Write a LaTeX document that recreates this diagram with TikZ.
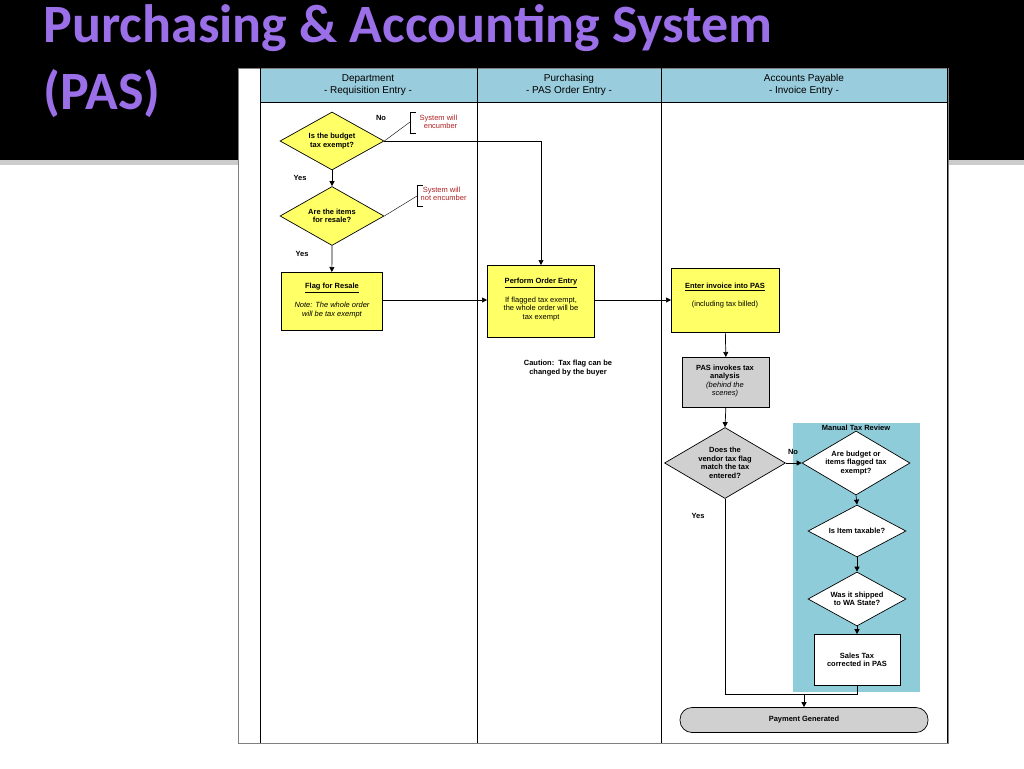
\documentclass[tikz,border=0pt]{standalone}
\usepackage{fontspec}
\setmainfont{Liberation Sans}
\newfontfamily\titlefont{Carlito}
\usetikzlibrary{shapes.geometric,arrows.meta}
\definecolor{ylw}{HTML}{FFFF66}
\definecolor{hdr}{HTML}{99CCDD}
\definecolor{rev}{HTML}{8FCCDA}
\definecolor{gry}{HTML}{D0D0D0}
\definecolor{ttl}{HTML}{9A6FE8}
\definecolor{red}{HTML}{B02020}
\tikzset{
 dia/.style={diamond,draw,aspect=1.8,inner sep=0pt,align=center,font=\bfseries\fontsize{7.5}{8.5}\selectfont},
 boxn/.style={draw,align=center,font=\fontsize{7.5}{8.5}\selectfont,anchor=north west},
 arr/.style={-{Triangle[length=5pt,width=5pt]}},
 lab/.style={font=\bfseries\fontsize{7.5}{8.5}\selectfont},
 call/.style={font=\fontsize{7.5}{8.5}\selectfont,text=red,align=left},
 hdt/.style={font=\fontsize{10}{12}\selectfont,align=center}
}
\begin{document}
\begin{tikzpicture}[x=1pt,y=-1pt,line width=0.7pt]
\useasboundingbox (0,0) rectangle (1024,768);
\fill[white] (0,0) rectangle (1024,768);
\fill[black] (0,0) rectangle (1024,160);
\fill[gray!40] (0,160) rectangle (1024,165);
\node[anchor=west,text=ttl,font=\titlefont\bfseries\fontsize{54}{58}\selectfont] (t1) at (40,28) {Purchasing \& Accounting System};
\node[anchor=west,text=ttl,font=\titlefont\bfseries\fontsize{54}{58}\selectfont] (t2) at (40,94) {(PAS)};
% panel
\fill[white] (238,68) rectangle (948,743);
\fill[hdr] (260,68) rectangle (947,102);
\draw[gray] (238,68) rectangle (948,743);
\draw (260,68) -- (260,743) (477,68) -- (477,743) (661,68) -- (661,743) (947,68) -- (947,743) (260,102) -- (947,102);
\node[hdt] (h1) at (368,85) {Department\\- Requisition Entry -};
\node[hdt] (h2) at (569,85) {Purchasing\\- PAS Order Entry -};
\node[hdt] (h3) at (804,85) {Accounts Payable\\- Invoice Entry -};
% review area
\fill[rev] (793,423) rectangle (920,692);
\node[lab] (mtr) at (856,428) {Manual Tax Review};
% nodes
\node[dia,fill=ylw,minimum width=104pt,minimum height=58pt] (d1) at (332,141) {Is the budget\\tax exempt?};
\node[dia,fill=ylw,minimum width=104pt,minimum height=59pt] (d2) at (332,216) {Are the items\\for resale?};
\node[boxn,fill=ylw,minimum width=101pt,minimum height=58pt] (fr) at (281,272) {};
\node[font=\bfseries\fontsize{7.5}{8.5}\selectfont] (frt) at (332,288) {\underline{Flag for Resale}};
\node[font=\itshape\fontsize{7.5}{8.5}\selectfont,align=center] (frn) at (332,310) {Note: The whole order\\will be tax exempt};
\node[boxn,fill=ylw,minimum width=107pt,minimum height=72pt] (oe) at (487,265) {};
\node[font=\bfseries\fontsize{7.5}{8.5}\selectfont] (oet) at (541,283) {\underline{Perform Order Entry}};
\node[font=\fontsize{7.5}{8.5}\selectfont,align=center] (oen) at (541,309) {If flagged tax exempt,\\the whole order will be\\tax exempt};
\node[boxn,fill=ylw,minimum width=108pt,minimum height=64pt] (ie) at (671,268) {};
\node[font=\bfseries\fontsize{7.5}{8.5}\selectfont] (iet) at (725,287) {\underline{Enter invoice into PAS}};
\node[font=\fontsize{7.5}{8.5}\selectfont] (ien) at (725,305) {(including tax billed)};
\node[font=\bfseries\fontsize{7.5}{8.5}\selectfont,align=center] (cau) at (568,368) {Caution:\ \ Tax flag can be\\changed by the buyer};
\node[boxn,fill=gry,minimum width=87pt,minimum height=50pt] (pi) at (682,357) {};
\node[font=\fontsize{7.5}{8.5}\selectfont,align=center] (pit) at (725,381) {\textbf{PAS invokes tax}\\\textbf{analysis}\\\textit{(behind the}\\\textit{scenes)}};
\node[dia,fill=gry,minimum width=121pt,minimum height=71pt] (d3) at (725,463) {Does the\\vendor tax flag\\match the tax\\entered?};
\node[dia,fill=white,minimum width=108pt,minimum height=64pt] (d4) at (856,463) {Are budget or\\items flagged tax\\exempt?};
\node[dia,fill=white,minimum width=98pt,minimum height=52pt] (d5) at (857,531) {Is Item taxable?};
\node[dia,fill=white,minimum width=98pt,minimum height=54pt] (d6) at (857,599) {Was it shipped\\to WA State?};
\node[draw,fill=white,minimum width=86pt,minimum height=51pt,align=center,font=\bfseries\fontsize{7.5}{8.5}\selectfont] (st) at (857,660) {Sales Tax\\corrected in PAS};
\node[draw,fill=gry,rounded corners=12pt,minimum width=248pt,minimum height=25pt,font=\bfseries\fontsize{7.5}{8.5}\selectfont] (pg) at (804,720) {Payment Generated};
% labels
\node[lab] (no1) at (381,118) {No};
\node[lab] (y1) at (300,178) {Yes};
\node[lab] (y2) at (302,254) {Yes};
\node[lab] (no2) at (793,452) {No};
\node[lab] (y3) at (698,516) {Yes};
% callouts
\draw (416,112) -- (410,112) -- (410,133) -- (416,133);
\node[call,anchor=west] (c1) at (416,122) {System will\\\ \ encumber};
\draw (423,185) -- (417,185) -- (417,206) -- (423,206);
\node[call,anchor=west] (c2) at (417,194) {\ System will\\not encumber};
\draw[line width=0.4pt] (d1.east) -- (410,122);
\draw[line width=0.4pt] (d2.east) -- (417,196);
% connectors
\coordinate (j1) at (541,141);
\draw[arr] (d1.east) -- (j1) -- (oe.north -| j1);
\draw[arr] (d1.south) -- (d2.north);
\draw[arr] (d2.south) -- (fr.north);
\draw[arr] (fr.east |- 0,300) -- (oe.west |- 0,300);
\draw[arr] (oe.east |- 0,300) -- (ie.west |- 0,300);
\draw[arr] (ie.south) -- (pi.north);
\draw[arr] (pi.south) -- (d3.north);
\draw[arr] (d3.east) -- (d4.west);
\draw[arr] (d4.south) -- (d5.north);
\draw[arr] (d5.south) -- (d6.north);
\draw[arr] (d6.south) -- (st.north);
\coordinate (j2) at (804,694);
\draw (d3.south) -- (d3.south |- j2) -- (j2);
\draw (st.south) -- (st.south |- j2) -- (j2);
\draw[arr] (j2) -- (pg.north);
\end{tikzpicture}
\end{document}
